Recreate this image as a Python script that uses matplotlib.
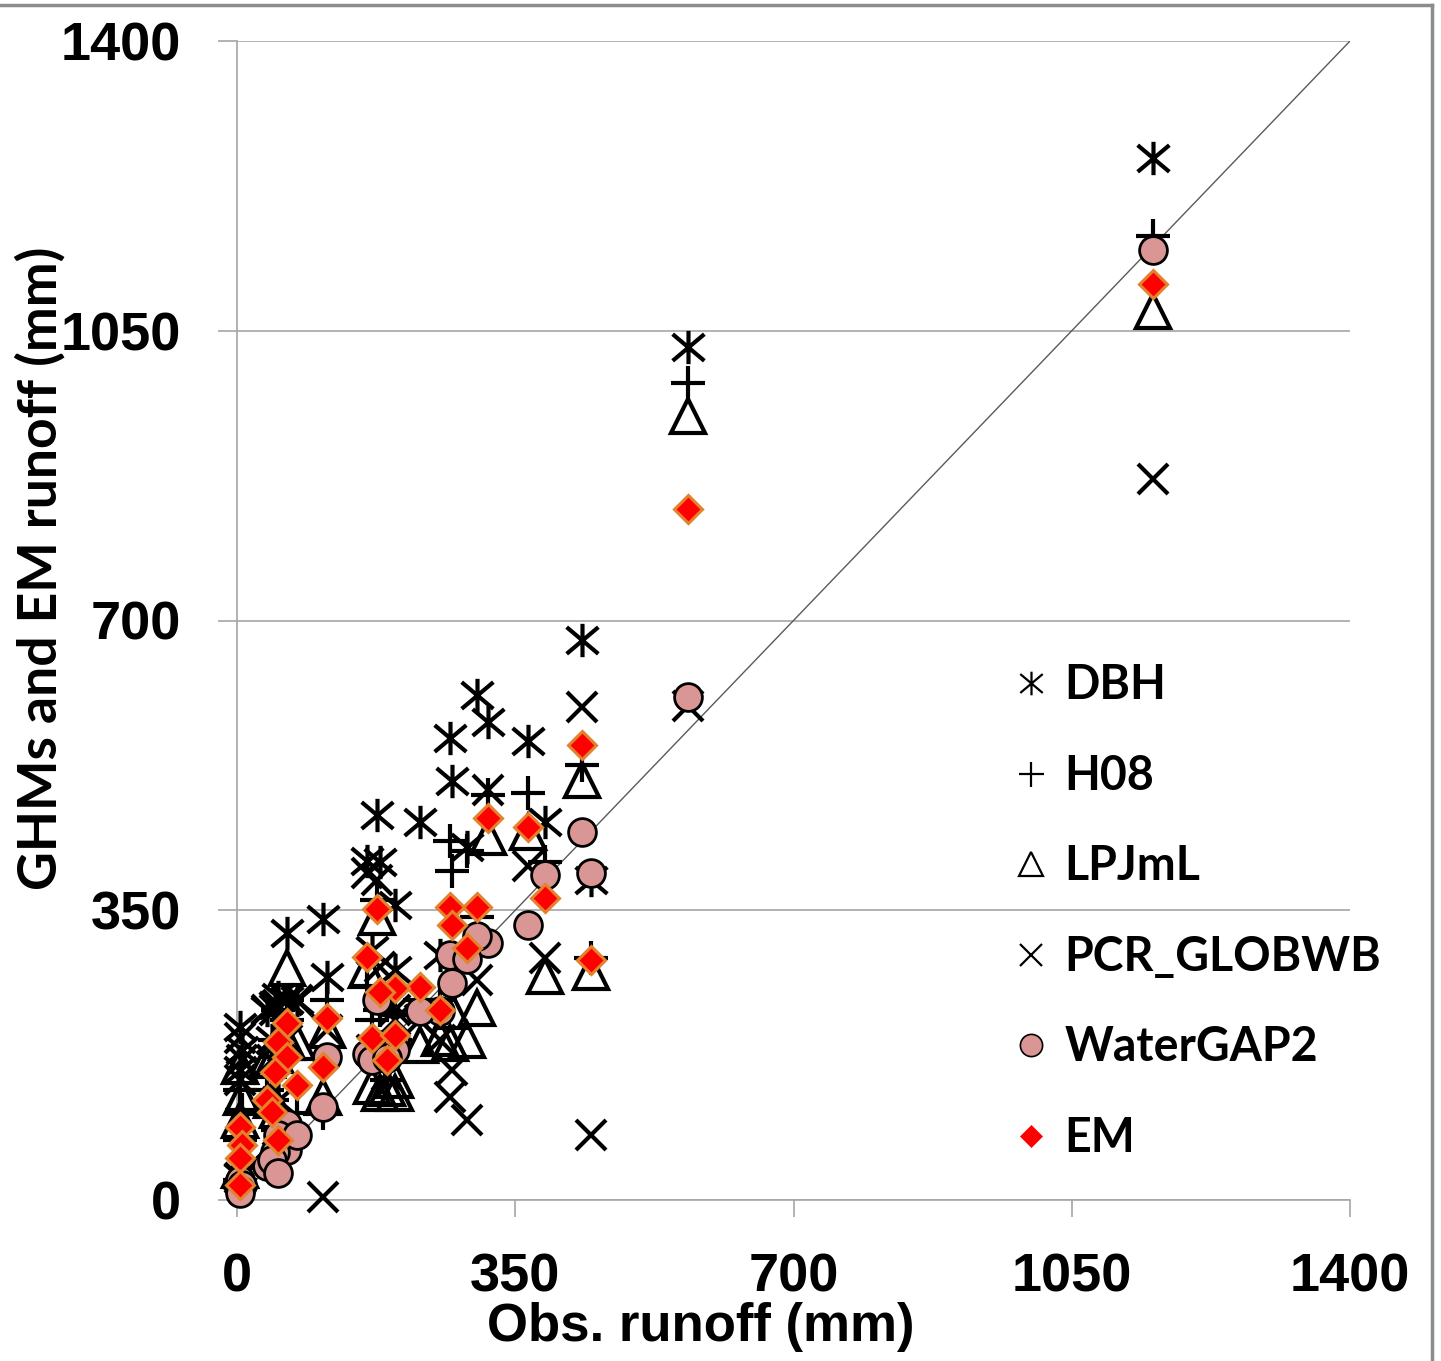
import matplotlib

matplotlib.use("Agg")
import matplotlib.pyplot as plt
from matplotlib.lines import Line2D
from matplotlib.path import Path

# observed runoff per basin (mm) and simulated runoff per model (mm)
obs = [1152, 567, 434, 445, 316, 366, 387, 302, 268, 270, 289, 255, 230, 199,
       180, 176, 164, 170, 199, 189, 113, 108, 63, 52, 63, 48, 75, 38, 44, 52,
       4, 6, 4, 4]
dbh = [1259, 1030, 676, 386, 577, 555, 456, 610, 558, 506, 426, 296, 456, 356,
       408, 465, 410, 302, 278, 241, 269, 340, 322, 245, 241, 235, 241, 229,
       193, 121, 209, 181, 157, 28]
h08 = [1165, 987, 525, 292, 489, 492, 408, 342, 434, 398, 422, 241, 241, 223,
       229, 362, 259, 217, 193, 145, 241, 105, 241, 229, 217, 193, 105, 133,
       121, 84, 133, 109, 72, 24]
lpjml = [1074, 947, 507, 275, 438, 445, 270, 232, 190, 228, 193, 196, 187, 145,
         129, 342, 278, 138, 129, 135, 205, 124, 280, 193, 191, 175, 191, 169,
         121, 109, 162, 124, 97, 36]
pcr = [871, 597, 595, 78, 495, 404, 292, 266, 124, 157, 97, 193, 217, 229,
       281, 386, 395, 181, 217, 151, 205, 4, 241, 235, 193, 229, 241, 229,
       169, 84, 196, 169, 145, 27]
watergap = [1147, 607, 445, 395, 311, 332, 392, 319, 296, 262, 291, 228, 228,
            193, 187, 241, 176, 169, 181, 171, 173, 112, 92, 78, 60, 58, 78,
            41, 48, 33, 24, 18, 12, 8]
em = [1106, 835, 550, 290, 462, 450, 365, 354, 354, 332, 305, 229, 257, 256,
      251, 352, 293, 196, 199, 169, 220, 161, 214, 191, 173, 155, 139, 121,
      106, 72, 88, 66, 51, 18]

ticks = [0, 350, 700, 1050, 1400]

# Excel-style asterisk: vertical bar plus a cross
STAR = Path(
    [(0, -1), (0, 1), (-0.95, -0.8), (0.95, 0.8), (-0.95, 0.8), (0.95, -0.8)],
    [Path.MOVETO, Path.LINETO] * 3,
)

TICKFONT = ["Liberation Sans", "DejaVu Sans"]
LABEL = ["Lato", "DejaVu Sans"]
GRID = "#a6a6a6"

series = [
    ("DBH", dbh, dict(marker=STAR, ms=24, mfc="none", mec="black", mew=3)),
    ("H08", h08, dict(marker="+", ms=24, mec="black", mew=3)),
    ("LPJmL", lpjml, dict(marker="^", ms=24, mfc="none", mec="black", mew=3)),
    ("PCR_GLOBWB", pcr, dict(marker="x", ms=22, mec="black", mew=3)),
    ("WaterGAP2", watergap, dict(marker="o", ms=20, mfc="#d99694", mec="black", mew=2)),
    ("EM", em, dict(marker="D", ms=14, mfc="#ff0000", mec="#e3822e", mew=2.2)),
]
legend_style = {
    "DBH": dict(marker=STAR, ms=17, mfc="none", mec="black", mew=1.6),
    "H08": dict(marker="+", ms=18, mec="black", mew=1.6),
    "LPJmL": dict(marker="^", ms=17, mfc="none", mec="black", mew=1.6),
    "PCR_GLOBWB": dict(marker="x", ms=16, mec="black", mew=1.6),
    "WaterGAP2": dict(marker="o", ms=16, mfc="#d99694", mec="black", mew=1.2),
    "EM": dict(marker="D", ms=11, mfc="#ff0000", mec="#ff0000", mew=0.5),
}

fig = plt.figure(figsize=(14.41, 13.61), dpi=100)
ax = fig.add_axes([237 / 1441, 161 / 1361, 1113 / 1441, 1159 / 1361])

ax.plot([0, 1400], [0, 1400], color="#5a5a5a", lw=1.0, zorder=1)
for name, values, style in series:
    ax.plot(obs, values, ls="none", label=name, zorder=3, clip_on=False, **style)

ax.set_xlim(0, 1400)
ax.set_ylim(0, 1400)
ax.set_xticks(ticks)
ax.set_yticks(ticks)
ax.yaxis.grid(True, color=GRID, lw=1.2)
ax.set_axisbelow(True)
for side in ("top", "right"):
    ax.spines[side].set_visible(False)
for side in ("left", "bottom"):
    ax.spines[side].set_color(GRID)
    ax.spines[side].set_linewidth(1.2)
ax.tick_params(axis="x", length=12, width=1.2, color=GRID, pad=26)
ax.tick_params(axis="y", length=14, width=1.2, color=GRID, pad=26)
for lab in ax.get_xticklabels() + ax.get_yticklabels():
    lab.set_fontfamily(TICKFONT)
    lab.set_fontweight("bold")
    lab.set_fontsize(39)

ax.set_xlabel("Obs. runoff (mm)", fontfamily=TICKFONT, fontweight="bold", fontsize=38)
ax.xaxis.set_label_coords(0.417, -0.088)
ax.set_ylabel("GHMs and EM runoff (mm)", fontfamily=LABEL, fontweight="bold", fontsize=38.5)
ax.yaxis.label.set_va("center")
ax.yaxis.set_label_coords(-0.177, 0.545)

handles = [Line2D([], [], ls="none", **legend_style[name]) for name, _, _ in series]
ax.legend(
    handles,
    [name for name, _, _ in series],
    loc="upper left",
    bbox_to_anchor=(0.6927, 0.463),
    frameon=False,
    borderpad=0,
    borderaxespad=0,
    handlelength=1.0,
    handletextpad=0.22,
    labelspacing=1.0,
    prop={"family": LABEL, "weight": "bold", "size": 33.5},
)

# outer frame edges
fig.add_artist(Line2D([0, 1432 / 1441], [1 - 5 / 1361] * 2, transform=fig.transFigure,
                      color="#8c8c8c", lw=2.5))
fig.add_artist(Line2D([1432 / 1441] * 2, [0, 1 - 5 / 1361], transform=fig.transFigure,
                      color="#8c8c8c", lw=2.5))

fig.savefig("out.png", dpi=100)
